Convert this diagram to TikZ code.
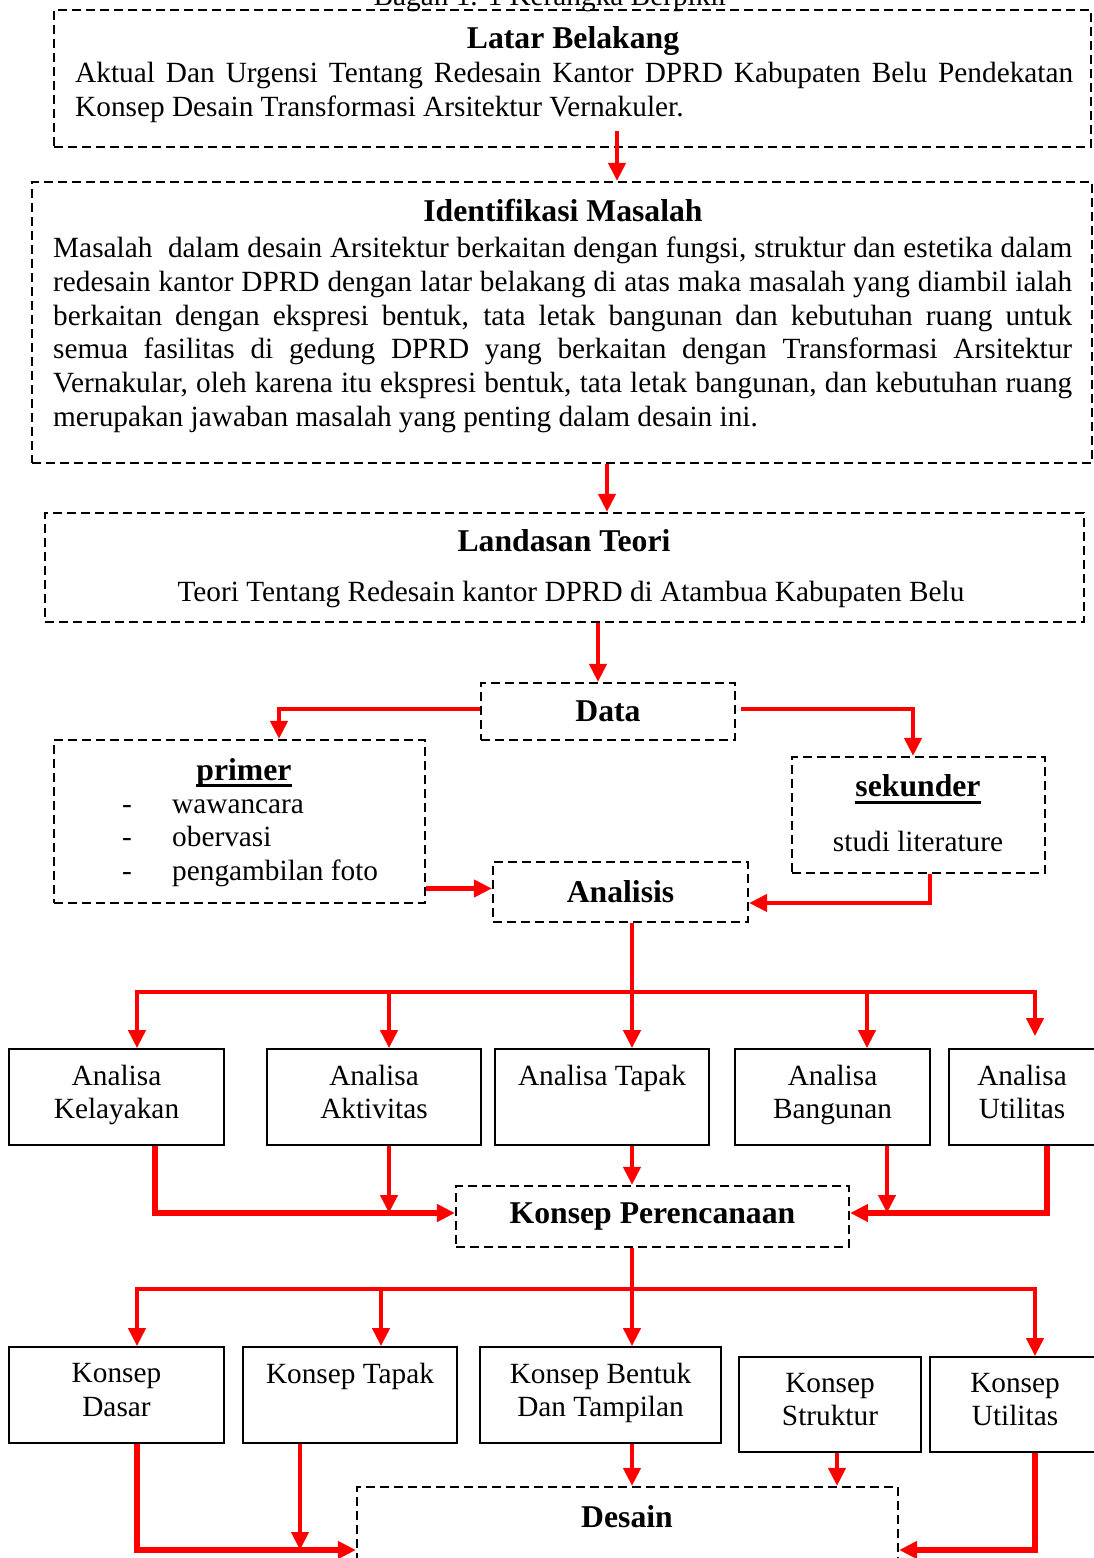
\documentclass[tikz,border=0pt]{standalone}
\usepackage{fontspec}
\setmainfont{Liberation Serif}
\usetikzlibrary{arrows.meta}

\tikzset{
	boldfont/.style = {font = \fontsize{31.7}{36}\selectfont\bfseries},
	dbox/.style = {draw, line width = 2.2pt, dash pattern = on 9pt off 5pt},
	sbox/.style = {draw, line width = 1.8pt, align = center, execute at begin node = \strut, execute at end node = \strut},
	headtext/.style = {anchor = base, boldfont},
	bodytext/.style = {anchor = north west, align = justify},
	underbar/.style = {line width = 3pt},
	flow/.style = {red, line width = 4.2pt, -{Triangle[length = 18pt, width = 17pt]}},
	heavy/.style = {line width = 6pt},
}

\begin{document}
\begin{tikzpicture}[x = 1pt, y = -1pt, inner sep = 0pt, font = \fontsize{29.3}{33.7}\selectfont]

	\useasboundingbox (0, 0) rectangle (1093, 1558);

	% Title, cut at the top edge

	\node [anchor = base] (bagan) at (551, 5) {Bagan 1. 1 Kerangka Berpikir};

	% Background, problem and theory

	\node [dbox, minimum width = 1037pt, minimum height = 137pt] (latar) at (572.5, 78.5) {};
	\node [headtext] (latar-head) at (573, 48.3) {Latar Belakang};
	\node [bodytext, text width = 998pt] (latar-body) at (75, 62) {Aktual Dan Urgensi Tentang Redesain Kantor DPRD Kabupaten Belu Pendekatan\linebreak Konsep Desain Transformasi Arsitektur Vernakuler.};

	\node [dbox, minimum width = 1060pt, minimum height = 281pt] (ident) at (562, 322.5) {};
	\node [headtext] (ident-head) at (563, 221.7) {Identifikasi Masalah};
	\node [bodytext, text width = 1019pt] (ident-body) at (53, 237) {Masalah\ \ dalam desain Arsitektur berkaitan dengan fungsi, struktur dan estetika dalam\linebreak redesain kantor DPRD dengan latar belakang di atas maka masalah yang diambil ialah\linebreak berkaitan dengan ekspresi bentuk, tata letak bangunan dan kebutuhan ruang untuk\linebreak semua fasilitas di gedung DPRD yang berkaitan dengan Transformasi Arsitektur\linebreak Vernakular, oleh karena itu ekspresi bentuk, tata letak bangunan, dan kebutuhan ruang\linebreak merupakan jawaban masalah yang penting dalam desain ini.};

	\node [dbox, minimum width = 1039pt, minimum height = 109pt] (landasan) at (564.5, 567.5) {};
	\node [headtext] (landasan-head) at (564, 551.7) {Landasan Teori};
	\node [anchor = base] (landasan-body) at (571, 601.7) {Teori Tentang Redesain kantor DPRD di Atambua Kabupaten Belu};

	% Data and analysis

	\node [dbox, boldfont, minimum width = 254pt, minimum height = 57pt] (data) at (608, 711.5) {Data};

	\node [dbox, minimum width = 371pt, minimum height = 163pt] (primer) at (239.5, 821.5) {};
	\node [headtext] (primer-head) at (244, 780) {primer\ };
	\draw [underbar] ([yshift = -5.5pt] primer-head.base west) -- ([yshift = -5.5pt] primer-head.base east);
	\node [anchor = base] (dash-a) at (127, 813.3) {-};
	\node [anchor = base west] (item-a) at (172, 813.3) {wawancara};
	\node [anchor = base] (dash-b) at (127, 846.7) {-};
	\node [anchor = base west] (item-b) at (172, 846.7) {obervasi};
	\node [anchor = base] (dash-c) at (127, 880) {-};
	\node [anchor = base west] (item-c) at (172, 880) {pengambilan foto};

	\node [dbox, minimum width = 253pt, minimum height = 116pt] (sekunder) at (918.5, 815) {};
	\node [headtext] (sekunder-head) at (918, 796.7) {sekunder};
	\draw [underbar] ([yshift = -6pt] sekunder-head.base west) -- ([yshift = -6pt] sekunder-head.base east);
	\node [anchor = base] (sekunder-body) at (918, 851.7) {studi literature};

	\node [dbox, boldfont, minimum width = 255pt, minimum height = 60pt] (analisis) at (620.5, 892) {Analisis};

	% Analysis row

	\node [sbox, minimum width = 215pt, minimum height = 96pt] (kelayakan) at (116.5, 1097) {Analisa\\Kelayakan};
	\node [sbox, minimum width = 214pt, minimum height = 96pt] (aktivitas) at (374, 1097) {Analisa\\Aktivitas};
	\node [sbox, minimum width = 214pt, minimum height = 96pt] (atapak) at (602, 1097) {Analisa Tapak\\};
	\node [sbox, minimum width = 195pt, minimum height = 96pt] (bangunan) at (832.5, 1097) {Analisa\\Bangunan};
	\node [sbox, minimum width = 146pt, minimum height = 96pt] (autilitas) at (1022, 1097) {Analisa\\Utilitas};

	\node [dbox, boldfont, minimum width = 393pt, minimum height = 61pt] (perencanaan) at (652.5, 1216.5) {Konsep Perencanaan};

	% Concept row

	\node [sbox, minimum width = 215pt, minimum height = 96pt] (kdasar) at (116.5, 1395) {Konsep\\Dasar};
	\node [sbox, minimum width = 214pt, minimum height = 96pt] (ktapak) at (350, 1395) {Konsep Tapak\\};
	\node [sbox, minimum width = 241pt, minimum height = 96pt] (kbentuk) at (600.5, 1395) {Konsep Bentuk\\Dan Tampilan};
	\node [sbox, minimum width = 182pt, minimum height = 95pt] (kstruktur) at (830, 1404.5) {Konsep\\Struktur};
	\node [sbox, minimum width = 170pt, minimum height = 95pt] (kutilitas) at (1015, 1404.5) {Konsep\\Utilitas};

	\node [dbox, minimum width = 541pt, minimum height = 126pt] (desain) at (627.5, 1550) {};
	\node [headtext] (desain-head) at (627, 1527.3) {Desain};

	% Red flow arrows

	\draw [flow] ([xshift = 44.5pt, yshift = 17pt] latar.south) -- ([xshift = 55pt] ident.north);
	\draw [flow] ([xshift = 45pt] ident.south) -- ([xshift = 42.5pt] landasan.north);
	\draw [flow] ([xshift = 33.5pt] landasan.south) -- ([xshift = -10pt] data.north);

	\draw [flow] ([yshift = 2.5pt] data.west) -| ([xshift = 39.5pt] primer.north);
	\draw [flow] ([xshift = 5pt, yshift = 2.5pt] data.east) -| ([xshift = -5.5pt] sekunder.north);
	\draw [flow] ([yshift = -67pt] primer.east) -- ([yshift = 3.5pt] analisis.west);
	\draw [flow] ([xshift = 11.5pt] sekunder.south) |- ([yshift = -11pt] analisis.east);

	\draw [flow] ([xshift = 11.5pt] analisis.south) -- ([xshift = 30pt] atapak.north);
	\coordinate (fork-a) at ([xshift = 11.5pt, yshift = -69pt] analisis.south);
	\draw [flow] (fork-a) -| ([xshift = 20.5pt] kelayakan.north);
	\draw [flow] (fork-a) -| ([xshift = 15pt] aktivitas.north);
	\draw [flow] (fork-a) -| ([xshift = 34.5pt] bangunan.north);
	\draw [flow] (fork-a) -| ([xshift = 13pt, yshift = 12pt] autilitas.north);

	\draw [flow, heavy] ([xshift = 38.5pt] kelayakan.south) |- ([yshift = 3.5pt] perencanaan.west);
	\draw [flow] ([xshift = 15pt] aktivitas.south) -- ([xshift = 15pt, yshift = 3.5pt] aktivitas.south |- perencanaan.west);
	\draw [flow] ([xshift = 30pt] atapak.south) -- ([xshift = -20.5pt] perencanaan.north);
	\draw [flow] ([xshift = 54.5pt] bangunan.south) -- ([xshift = 54.5pt, yshift = 3.5pt] bangunan.south |- perencanaan.east);
	\draw [flow, heavy] ([xshift = 25pt] autilitas.south) |- ([yshift = 3.5pt] perencanaan.east);

	\draw [flow] ([xshift = -20.5pt] perencanaan.south) -- ([xshift = 31.5pt] kbentuk.north);
	\coordinate (fork-b) at ([xshift = -20.5pt, yshift = -41pt] perencanaan.south);
	\draw [flow] (fork-b) -| ([xshift = 20.5pt] kdasar.north);
	\draw [flow] (fork-b) -| ([xshift = 31pt] ktapak.north);
	\draw [flow] (fork-b) -| ([xshift = 20pt] kutilitas.north);

	\draw [flow, heavy] ([xshift = 20.5pt] kdasar.south) |- (desain.west);
	\draw [flow] ([xshift = -50pt] ktapak.south) -- ([xshift = -50pt] ktapak.south |- desain.west);
	\draw [flow] ([xshift = 31.5pt] kbentuk.south) -- ([xshift = 4.5pt] desain.north);
	\draw [flow] ([xshift = 7pt] kstruktur.south) -- ([xshift = 209.5pt] desain.north);
	\draw [flow, heavy] ([xshift = 20pt] kutilitas.south) |- (desain.east);

\end{tikzpicture}
\end{document}
